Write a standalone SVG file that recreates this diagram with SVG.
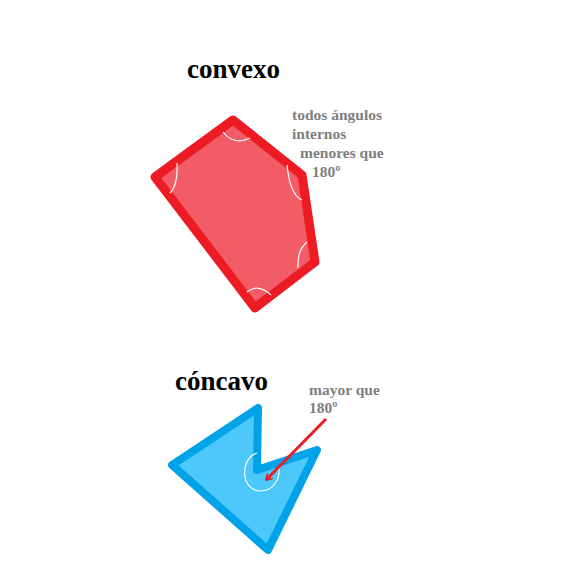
<svg xmlns="http://www.w3.org/2000/svg" width="588" height="588" viewBox="0 0 588 588">
<defs>
<style>
.title{font-family:"Liberation Serif","Times New Roman",serif;font-weight:bold;font-size:27px;fill:#000}
.note{font-family:"Liberation Serif","Times New Roman",serif;font-weight:bold;font-size:15.5px;fill:#7f7f7f}
.arc{fill:none;stroke:#fff;stroke-width:1.2}
</style>
<marker id="ah" markerWidth="8" markerHeight="8" refX="6" refY="4" orient="auto" markerUnits="userSpaceOnUse">
<path d="M0,0 L6,4 L0,8" fill="none" stroke="#ed1c24" stroke-width="1.5"/>
</marker>
</defs>
<rect width="588" height="588" fill="#fff"/>
<g id="convexo">
<polygon points="233,120 302,175 315,262 255,308 155,177" fill="#f25c66" stroke="#ed1c24" stroke-width="9" stroke-linejoin="round"/>
<path class="arc" d="M223,132 Q234,146 250,138"/>
<path class="arc" d="M177,163 Q178,185 170,193"/>
<path class="arc" d="M287,165 Q290,195 302,200"/>
<path class="arc" d="M307,242 Q297,250 298,268"/>
<path class="arc" d="M247,292 Q258,283 271,295"/>
<text class="title" x="187" y="78">convexo</text>
</g>
<g id="convexo-note">
<text class="note" x="292" y="120">todos ángulos</text>
<text class="note" x="292" y="139">internos</text>
<text class="note" x="300" y="158">menores que</text>
<text class="note" x="312" y="177">180º</text>
</g>
<g id="concavo">
<polygon points="258,408 257,470 317,450 268,550 172,465" fill="#4dc8fa" stroke="#00a2e8" stroke-width="8" stroke-linejoin="round"/>
<path class="arc" d="M257,453 C240,458 240,490 260,491 C273,491 280,480 279,468"/>
<text class="title" x="175" y="390">cóncavo</text>
</g>
<g id="concavo-note">
<text class="note" x="309" y="395">mayor que</text>
<text class="note" x="309" y="413">180º</text>
</g>
<g id="connectors">
<line x1="326" y1="419" x2="266" y2="480" stroke="#ed1c24" stroke-width="3" marker-end="url(#ah)"/>
</g>
</svg>
